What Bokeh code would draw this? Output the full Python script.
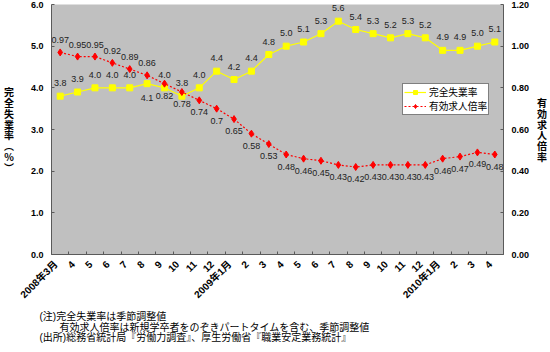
import math
from bokeh.plotting import figure
from bokeh.models import (Range1d, LinearAxis, FixedTicker, NumeralTickFormatter,
                          ColumnDataSource, LabelSet, Legend, LegendItem, Title)
from bokeh.core.properties import value
from bokeh.embed import file_html
from bokeh.resources import INLINE

# ---- data ----
months = ["2008年3月", "4", "5", "6", "7", "8", "9", "10", "11", "12",
          "2009年1月", "2", "3", "4", "5", "6", "7", "8", "9", "10", "11", "12",
          "2010年1月", "2", "3", "4"]
unemployment = [3.8, 3.9, 4.0, 4.0, 4.0, 4.1, 4.0, 3.8, 4.0, 4.4, 4.2, 4.4, 4.8,
                5.0, 5.1, 5.3, 5.6, 5.4, 5.3, 5.2, 5.3, 5.2, 4.9, 4.9, 5.0, 5.1]
jobs_ratio = [0.97, 0.95, 0.95, 0.92, 0.89, 0.86, 0.82, 0.78, 0.74, 0.7, 0.65, 0.58,
              0.53, 0.48, 0.46, 0.45, 0.43, 0.42, 0.43, 0.43, 0.43, 0.43, 0.46, 0.47,
              0.49, 0.48]
left_ticks = [0, 1, 2, 3, 4, 5, 6]
right_ticks = [0, 0.2, 0.4, 0.6, 0.8, 1.0, 1.2]
series_names = ["完全失業率", "有効求人倍率"]
left_title = ["完", "全", "失", "業", "率", "︵", "%", "︶"]
right_title = ["有", "効", "求", "人", "倍", "率"]
notes = ["(注)完全失業率は季節調整値",
         "\u3000\u3000有効求人倍率は新規学卒者をのぞきパートタイムを含む、季節調整値",
         "(出所)総務省統計局『労働力調査』、厚生労働省『職業安定業務統計』"]

n = len(months)
xs = list(range(n))
LABEL_SHIFT = 0.25  # rotated month labels sit slightly left of their slot centre
label_pos = [i - LABEL_SHIFT for i in xs]

NUM_FONT = "Liberation Sans, Noto Sans CJK JP"
CJK_FONT = "Noto Sans CJK JP"

p = figure(width=550, height=352, output_backend="svg", toolbar_location=None,
           x_range=Range1d(-0.5, n - 0.5), y_range=Range1d(0, 6),
           min_border_left=47, min_border_right=43, min_border_top=4,
           min_border_bottom=98, background_fill_color="#C0C0C0",
           border_fill_color="white", outline_line_color=None)
p.extra_y_ranges = {"jobs": Range1d(0, 1.2)}
p.xgrid.grid_line_color = None
p.ygrid.grid_line_color = None

AXIS_COLOR = "#5a5a5a"

xa = p.xaxis[0]
xa.ticker = FixedTicker(ticks=label_pos, minor_ticks=[i - 0.5 for i in range(n + 1)])
xa.major_label_overrides = {pos: m for pos, m in zip(label_pos, months)}
xa.major_label_orientation = math.pi / 4
xa.major_tick_in = 0
xa.major_tick_out = 0
xa.minor_tick_in = 3
xa.minor_tick_out = 0
xa.minor_tick_line_color = AXIS_COLOR
xa.major_label_standoff = 8
xa.major_label_text_font = NUM_FONT
xa.major_label_text_font_size = "10px"
xa.major_label_text_font_style = "bold"
xa.major_label_text_color = "black"
xa.axis_line_color = AXIS_COLOR

ya = p.yaxis[0]
ya.ticker = FixedTicker(ticks=left_ticks)
ya.formatter = NumeralTickFormatter(format="0.0")
ya.axis_label = "\n".join(left_title)
ya.axis_label_standoff = 14

ra = LinearAxis(y_range_name="jobs", ticker=FixedTicker(ticks=right_ticks),
                formatter=NumeralTickFormatter(format="0.00"))
ra.axis_label = "\n".join(right_title)
ra.axis_label_standoff = 5
p.add_layout(ra, "right")

for ax in (ya, ra):
    ax.major_tick_in = 3
    ax.major_tick_out = 0
    ax.minor_tick_in = 0
    ax.minor_tick_out = 0
    ax.major_tick_line_color = AXIS_COLOR
    ax.axis_line_color = AXIS_COLOR
    ax.major_label_standoff = 8
    ax.major_label_text_font = NUM_FONT
    ax.major_label_text_font_size = "9px"
    ax.major_label_text_font_style = "bold"
    ax.major_label_text_color = "black"
    ax.axis_label_orientation = "horizontal"
    ax.axis_label_text_font = CJK_FONT
    ax.axis_label_text_font_size = "10px"
    ax.axis_label_text_font_style = "bold"
    ax.axis_label_text_color = "black"
    ax.axis_label_text_line_height = 0.72
    ax.axis_label_text_align = "center"

src = ColumnDataSource(dict(
    x=xs, u=unemployment, j=jobs_ratio,
    ul=[f"{v:.1f}" for v in unemployment],
    jl=[f"{v:g}" for v in jobs_ratio],
    uoff=[-14 if i == 5 else 13 for i in range(n)],
    joff=[12 if i < 6 else -12 for i in range(n)],
))

r1 = p.line("x", "u", source=src, line_color="#FFFF00", line_width=1.2)
r2 = p.scatter("x", "u", source=src, marker="square", size=6,
               fill_color="#FFFF00", line_color="#FFFF00")
r3 = p.line("x", "j", source=src, y_range_name="jobs", line_color="#FF0000",
            line_dash="2 2", line_width=1.2)
r4 = p.scatter("x", "j", source=src, y_range_name="jobs", marker="diamond",
               size=7, fill_color="#FF0000", line_color="#FF0000")

lab_kw = dict(text_align="center", text_baseline="middle", text_font_size="9px",
              text_color="#222222", text_font=value("Liberation Sans"))
p.add_layout(LabelSet(x="x", y="u", text="ul", y_offset="uoff", source=src, **lab_kw))
p.add_layout(LabelSet(x="x", y="j", text="jl", y_offset="joff", source=src,
                      y_range_name="jobs", **lab_kw))

legend = Legend(items=[LegendItem(label=series_names[0], renderers=[r1, r2]),
                       LegendItem(label=series_names[1], renderers=[r3, r4])],
                location=(351, 139), margin=0, padding=1, spacing=0,
                glyph_width=22, glyph_height=10, label_height=10,
                label_standoff=3, label_text_font=NUM_FONT,
                label_text_font_size="9.7px", label_text_color="black",
                border_line_color="black", border_line_width=1,
                background_fill_color="white", background_fill_alpha=1)
p.add_layout(legend)

note_title = Title(text="\n".join(notes), align="left", offset=-12, standoff=4,
                   text_font=NUM_FONT, text_font_size="10px",
                   text_font_style="normal", text_color="black",
                   text_line_height=0.96)
p.add_layout(note_title, "below")

open("out.html", "w").write(file_html(p, INLINE))
